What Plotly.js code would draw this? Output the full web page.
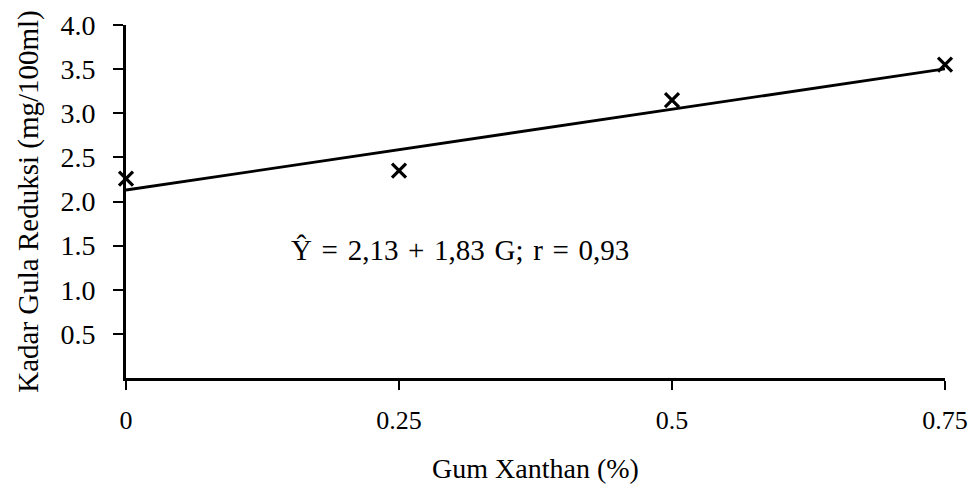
<!DOCTYPE html>
<html>
<head>
<meta charset="utf-8">
<script src="https://cdn.plot.ly/plotly-3.0.1.min.js"></script>
<style>html,body{margin:0;padding:0;background:#fff;}#chart{width:974px;height:488px;}</style>
</head>
<body>
<div id="chart"></div>
<script>
// Data
const gumXanthan = [0, 0.25, 0.5, 0.75];
const kadarGula = [2.26, 2.35, 3.15, 3.55];
const regIntercept = 2.13;
const regSlope = 1.83;
const xTickVals = [0, 0.25, 0.5, 0.75];
const xTickText = ['0', '0.25', '0.5', '0.75'];
const yTickVals = [0.5, 1.0, 1.5, 2.0, 2.5, 3.0, 3.5, 4.0];
const yTickText = ['0.5', '1.0', '1.5', '2.0', '2.5', '3.0', '3.5', '4.0'];
const equationText = 'Ŷ \u200a=\u200a 2,13 \u200a+\u200a 1,83 \u200aG; \u200ar \u200a=\u200a 0,93';
const xTitle = 'Gum Xanthan (%)';
const yTitle = 'Kadar Gula Reduksi (mg/100ml)';

const lineX = [gumXanthan[0], gumXanthan[gumXanthan.length - 1]];
const lineY = lineX.map(x => regIntercept + regSlope * x);

const font = 'Liberation Serif, Times New Roman, serif';

const traces = [
  {
    x: lineX, y: lineY, type: 'scatter', mode: 'lines',
    line: {color: '#000', width: 2.8}, cliponaxis: false, hoverinfo: 'skip'
  },
  {
    x: gumXanthan, y: kadarGula, type: 'scatter', mode: 'markers',
    marker: {symbol: 'x-thin', size: 14, color: '#000', line: {color: '#000', width: 3.2}},
    cliponaxis: false
  }
];

const layout = {
  width: 974, height: 488,
  margin: {l: 126, r: 29, t: 25, b: 110},
  paper_bgcolor: '#fff', plot_bgcolor: '#fff',
  showlegend: false,
  font: {family: font, color: '#000'},
  xaxis: {
    range: [0, 0.75], tickvals: xTickVals, ticktext: xTickText,
    showgrid: false, zeroline: false, showline: true, linecolor: '#000', linewidth: 2.5,
    ticks: 'outside', ticklen: 9, tickwidth: 2, tickcolor: '#000',
    tickfont: {family: font, size: 26, color: '#000'},
    ticklabelstandoff: 8,
    title: {text: xTitle, font: {family: font, size: 28, color: '#000'}, standoff: 25}
  },
  yaxis: {
    range: [0, 4], tickvals: yTickVals, ticktext: yTickText,
    showgrid: false, zeroline: false, showline: true, linecolor: '#000', linewidth: 2.8,
    ticks: 'outside', ticklen: 10, tickwidth: 2, tickcolor: '#000',
    tickfont: {family: font, size: 28, color: '#000'},
    ticklabelstandoff: 12,
    title: {text: yTitle, font: {family: font, size: 29, color: '#000'}, standoff: 14}
  },
  annotations: [{
    x: 0.306, y: 1.45, xref: 'x', yref: 'y', text: equationText, showarrow: false,
    font: {family: font, size: 29, color: '#000'}
  }]
};

Plotly.newPlot('chart', traces, layout, {displayModeBar: false, staticPlot: true});
</script>
</body>
</html>
